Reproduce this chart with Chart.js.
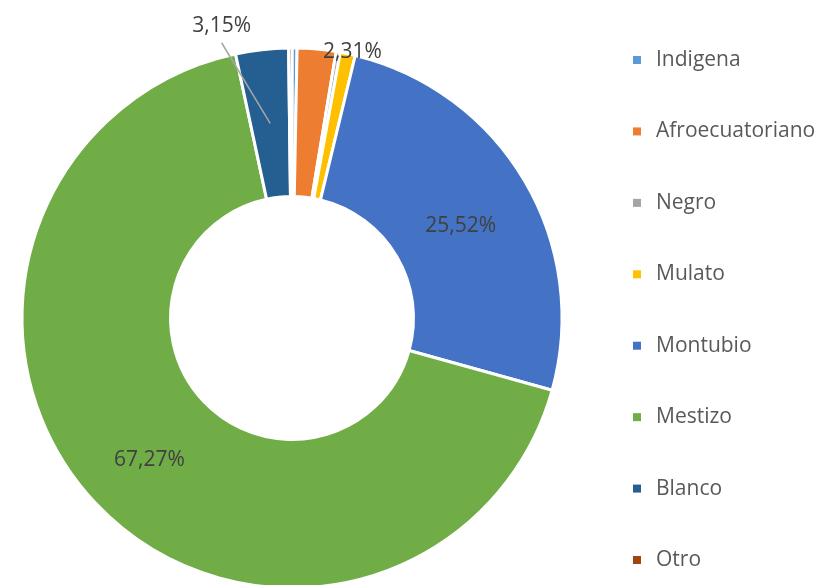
<!DOCTYPE html>
<html>
<head>
<meta charset="utf-8">
<script src="https://cdn.jsdelivr.net/npm/chart.js@4.4.0/dist/chart.umd.min.js"></script>
<style>
  html, body { margin: 0; padding: 0; background: #fff; }
  #wrap { width: 816px; height: 585px; overflow: hidden; position: relative; }
  #chart { position: absolute; left: 0; top: 0; }
</style>
</head>
<body>
<div id="wrap"><canvas id="chart" width="816" height="600"></canvas></div>
<script>
const categories = ['Indigena', 'Afroecuatoriano', 'Negro', 'Mulato', 'Montubio', 'Mestizo', 'Blanco', 'Otro'];
const values = [0.30, 2.31, 0.25, 0.90, 25.52, 67.27, 3.15, 0.20];
const colors = ['#5B9BD5', '#ED7D31', '#A5A5A5', '#FFC000', '#4472C4', '#70AD47', '#255E91', '#9E480E'];
const shownLabels = ['', '2,31%', '', '', '25,52%', '67,27%', '3,15%', ''];

// where each shown label sits: shift of angle (deg) and radius as a share of the outer radius
const labelPlace = {
  1: { shift: 7.5, r: 1.016 },
  4: { shift: 0, r: null },
  5: { shift: 0, r: null },
  6: { shift: -7.1, r: 1.117, leader: true }
};

const labelsPlugin = {
  id: 'sliceLabels',
  afterDatasetsDraw(chart) {
    const ctx = chart.ctx;
    const arcs = chart.getDatasetMeta(0).data;
    ctx.save();
    ctx.font = '21px "Open Sans"';
    ctx.fillStyle = '#404040';
    ctx.textAlign = 'center';
    ctx.textBaseline = 'alphabetic';
    arcs.forEach((arc, i) => {
      const text = shownLabels[i];
      if (!text) return;
      const p = arc.getProps(['x', 'y', 'startAngle', 'endAngle', 'innerRadius', 'outerRadius']);
      const place = labelPlace[i];
      const mid = (p.startAngle + p.endAngle) / 2;
      let lx, ly;
      if (place.r === null) {
        const pos = arc.tooltipPosition();
        lx = pos.x; ly = pos.y + 6;
      } else {
        const a = mid + place.shift * Math.PI / 180;
        lx = p.x + Math.cos(a) * p.outerRadius * place.r;
        ly = p.y + Math.sin(a) * p.outerRadius * place.r;
      }
      if (place.leader) {
        const pos = arc.tooltipPosition();
        ctx.strokeStyle = '#A6A6A6';
        ctx.lineWidth = 1.5;
        ctx.beginPath();
        ctx.moveTo(lx, ly + 18);
        ctx.lineTo(pos.x, pos.y);
        ctx.stroke();
      }
      ctx.fillText(text, lx, ly + 7.5);
    });
    ctx.restore();
  }
};

const legendPlugin = {
  id: 'sideLegend',
  afterDraw(chart) {
    const ctx = chart.ctx;
    ctx.save();
    ctx.font = '21px "Open Sans"';
    ctx.textBaseline = 'middle';
    ctx.textAlign = 'left';
    categories.forEach((name, i) => {
      const y = 60 + i * 71.43;
      ctx.fillStyle = colors[i];
      ctx.fillRect(633, y - 4, 8, 8);
      ctx.fillStyle = '#595959';
      ctx.fillText(name, 656, y);
    });
    ctx.restore();
  }
};

new Chart(document.getElementById('chart'), {
  type: 'doughnut',
  data: {
    labels: categories,
    datasets: [{
      data: values,
      backgroundColor: colors,
      borderColor: '#ffffff',
      borderWidth: 3,
      hoverOffset: 0
    }]
  },
  options: {
    responsive: false,
    animation: false,
    cutout: '45%',
    layout: { padding: { left: 20.5, top: 46.5, right: 252.5, bottom: 10.5 } },
    plugins: {
      legend: { display: false },
      tooltip: { enabled: false }
    }
  },
  plugins: [labelsPlugin, legendPlugin]
});
</script>
</body>
</html>
